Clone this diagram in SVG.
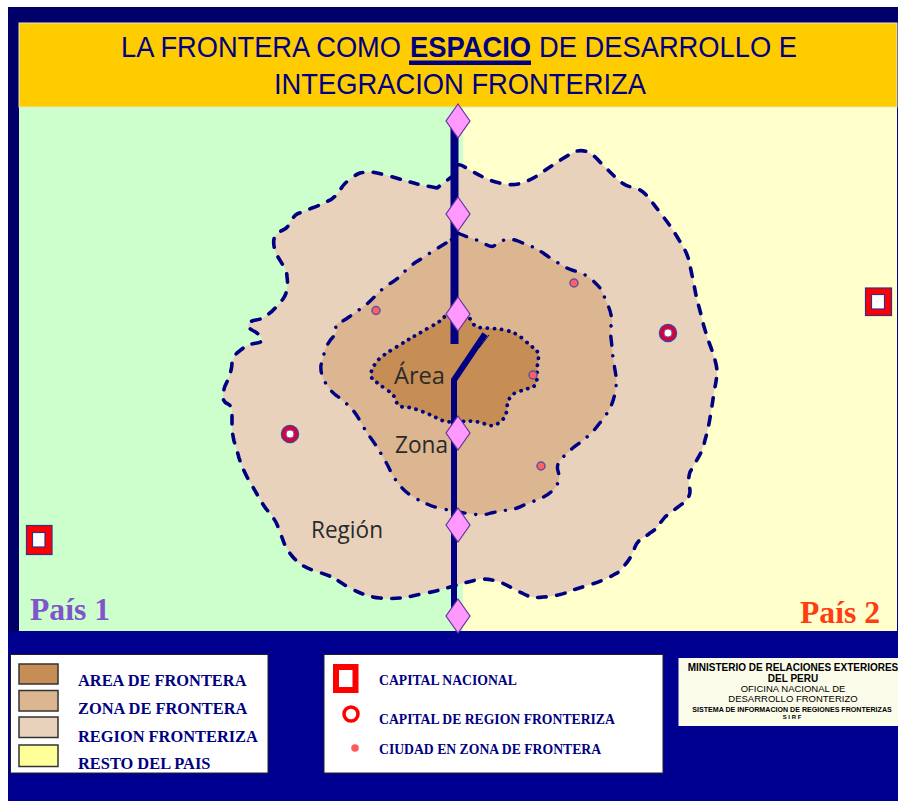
<svg xmlns="http://www.w3.org/2000/svg" width="898" height="801" viewBox="0 0 898 801">
<style>
.sans{font-family:"Liberation Sans",Arial,sans-serif}
.serif{font-family:"Liberation Serif","Times New Roman",serif;font-weight:bold}
.title{font-size:29px;fill:#000080}
.map{font-family:"Open Sans","Noto Sans",sans-serif;font-size:24px;fill:#2a2a2a}
.leg{font-size:16.400px;fill:#000080}
.leg2{font-size:13.700px;fill:#000080}
.sw{stroke:#333333;stroke-width:1.5}
.box{fill:#ffffff;stroke:#222222;stroke-width:1}
.dia{fill:#ff99ff;stroke:#663399;stroke-width:1.2}
.city{fill:#ff6060;stroke:#6050a0;stroke-width:1.5}
.b{fill:none;stroke:#000080}
.min{fill:#000000;text-anchor:middle}
</style>
<rect width="898" height="801" fill="#ffffff"/>
<rect x="8" y="7" width="890" height="794" fill="#000090"/>
<rect x="8" y="7" width="890" height="15" fill="#00006a"/>
<rect x="8" y="7" width="11" height="625" fill="#000068"/>
<g id="background">
<rect x="19" y="107" width="444" height="524" fill="#ccffcc"/>
<rect x="463" y="107" width="434" height="524" fill="#ffffcc"/>
</g>
<g id="title">
<rect x="19" y="23" width="878" height="84" fill="#ffcc00" stroke="#e8e8c0" stroke-width="1"/>
<text class="sans title" x="121" y="57" textLength="280" lengthAdjust="spacingAndGlyphs">LA FRONTERA COMO</text>
<text class="sans title" x="410" y="57" font-weight="bold" textLength="121" lengthAdjust="spacingAndGlyphs">ESPACIO</text>
<text class="sans title" x="539" y="57" textLength="258" lengthAdjust="spacingAndGlyphs">DE DESARROLLO E</text>
<rect x="409" y="60.500" width="122" height="4.500" fill="#000080"/>
<text class="sans title" x="274" y="94" textLength="372" lengthAdjust="spacingAndGlyphs">INTEGRACION FRONTERIZA</text>
</g>
<g id="region">
<path fill="#e8d2bc" stroke="#000080" stroke-width="3.6" stroke-dasharray="8.500 10.500" stroke-linecap="round" stroke-linejoin="round" d="M437 188 Q420 185 410 182 Q400 179 389 176 Q378 173 371 172 Q365 172 360 173 Q355 175 350 179 Q345 183 342 187 Q339 192 336 195 Q333 199 328 201 Q323 204 312 208 Q302 212 297 214 Q293 217 290 222 Q288 228 283 230 Q278 232 275 236 Q273 240 274 246 Q275 253 278 257 Q281 262 284 267 Q287 272 287 277 Q288 283 287 289 Q286 295 283 299 Q280 303 276 307 Q272 312 267 315 Q263 319 256 320 Q250 321 248 324 Q247 327 252 330 Q258 333 261 337 Q264 342 257 343 Q250 344 246 346 Q242 349 237 353 Q233 357 232 362 Q232 368 230 374 Q228 380 225 386 Q223 392 223 397 Q223 402 228 404 Q233 407 232 413 Q232 420 232 426 Q232 432 234 441 Q237 450 239 458 Q242 467 247 477 Q253 487 258 496 Q263 505 267 510 Q272 515 274 519 Q277 523 279 530 Q282 537 284 543 Q287 550 292 556 Q297 562 302 565 Q308 569 318 572 Q328 575 334 578 Q340 582 348 587 Q357 592 363 594 Q370 597 380 598 Q390 599 400 598 Q410 597 421 594 Q433 592 443 589 Q454 586 464 583 Q475 580 481 579 Q487 579 492 580 Q497 581 502 583 Q507 585 512 588 Q517 591 522 593 Q527 596 532 597 Q537 598 543 597 Q550 597 558 595 Q567 593 573 590 Q580 588 588 585 Q597 583 603 580 Q610 577 615 574 Q620 572 623 567 Q627 563 630 558 Q633 553 635 547 Q637 542 641 539 Q645 537 650 533 Q655 530 658 526 Q661 522 665 517 Q670 513 678 507 Q687 501 689 496 Q691 492 689 485 Q688 478 690 472 Q693 467 698 458 Q703 450 705 440 Q708 430 710 418 Q712 407 714 392 Q717 378 717 372 Q717 367 715 360 Q713 353 710 345 Q707 337 703 323 Q700 310 697 300 Q695 290 693 280 Q691 270 689 261 Q687 252 679 240 Q672 228 665 219 Q658 210 652 202 Q647 195 643 192 Q640 189 631 187 Q623 185 615 177 Q608 170 600 162 Q593 154 588 152 Q583 150 577 151 Q572 153 562 159 Q553 165 544 171 Q535 178 525 182 Q515 186 504 184 Q493 182 483 177 Q473 172 463 166 Q454 161 454 175 Z"/>
<text class="map" x="311" y="538" textLength="72" lengthAdjust="spacingAndGlyphs">Región</text>
</g>
<g id="zona">
<path fill="#dbb691" stroke="#000080" stroke-width="3.4" stroke-dasharray="9 10.500 0.100 10.500" stroke-linecap="round" stroke-linejoin="round" d="M446 243 Q438 248 430 253 Q423 258 416 262 Q409 267 403 273 Q397 280 389 284 Q382 289 376 295 Q370 302 363 307 Q356 312 349 317 Q342 322 338 323 Q335 325 336 328 Q338 332 333 337 Q328 342 325 350 Q323 358 321 365 Q320 373 325 382 Q330 391 337 396 Q345 402 350 407 Q356 413 360 421 Q365 430 370 437 Q376 445 380 452 Q385 460 389 468 Q393 477 398 483 Q403 490 410 495 Q418 500 425 503 Q433 507 443 509 Q454 511 458 512 Q463 513 473 514 Q483 516 491 513 Q500 511 508 510 Q517 509 524 505 Q532 502 539 499 Q547 496 552 491 Q557 487 558 482 Q560 477 558 471 Q556 465 561 459 Q567 453 574 447 Q581 442 587 437 Q593 432 599 424 Q605 417 609 410 Q613 403 615 393 Q617 383 616 376 Q615 370 613 358 Q612 346 611 338 Q610 330 611 326 Q613 322 611 315 Q610 309 606 301 Q603 293 600 288 Q597 284 590 278 Q583 273 575 271 Q567 269 560 264 Q553 260 546 255 Q539 250 533 247 Q527 245 518 241 Q510 238 504 240 Q498 243 495 245 Q493 248 487 245 Q482 242 474 239 Q467 237 460 234 Q454 231 454 238 Z"/>
<text class="map" x="395" y="453" textLength="53" lengthAdjust="spacingAndGlyphs">Zona</text>
</g>
<g id="area">
<path fill="#c68e54" stroke="#000080" stroke-width="3.800" stroke-dasharray="0.100 7" stroke-linecap="round" stroke-linejoin="round" d="M464 315 Q470 317 472 322 Q475 328 484 328 Q493 328 505 330 Q517 333 523 339 Q530 345 535 349 Q540 353 538 360 Q537 367 537 377 Q537 387 530 388 Q523 390 515 393 Q508 397 507 407 Q507 417 500 422 Q493 428 485 424 Q477 421 468 421 Q460 422 451 422 Q443 422 435 417 Q427 413 418 410 Q410 407 404 407 Q398 407 396 401 Q395 395 387 390 Q380 385 375 381 Q370 378 371 373 Q372 368 377 361 Q383 355 393 349 Q403 343 411 338 Q420 333 430 327 Q440 322 443 318 Q446 315 452 314 Q458 313 464 315 Z"/>
<text class="map" x="394" y="384" textLength="51" lengthAdjust="spacingAndGlyphs">Área</text>
</g>
<g id="connectors">
<path class="b" stroke-width="8" d="M454.500 120 V344"/>
<path class="b" stroke-width="6" d="M454 620 V380 L485 334"/>
<path class="b" stroke-width="1" d="M489 335 L479 348"/>
</g>
<g id="hitos">
<polygon id="hito1" class="dia" points="458,104 470,121 458,138 446,121"/>
<polygon id="hito2" class="dia" points="458,197 470,214 458,231 446,214"/>
<polygon id="hito3" class="dia" points="458,297 470,314 458,331 446,314"/>
<polygon id="hito4" class="dia" points="458,416 470,433 458,450 446,433"/>
<polygon id="hito5" class="dia" points="458,508 470,525 458,542 446,525"/>
<polygon id="hito6" class="dia" points="458,599 470,616 458,633 446,616"/>
</g>
<g id="ciudades">
<circle class="city" cx="376" cy="310.500" r="4"/>
<circle class="city" cx="574" cy="283" r="4"/>
<circle class="city" cx="533" cy="375" r="4"/>
<circle class="city" cx="541" cy="466" r="4"/>
</g>
<g id="capital-region-1">
<circle cx="290" cy="434" r="8.500" fill="#e00030" stroke="#4040a0" stroke-width="1.500"/>
<circle cx="290" cy="434" r="4" fill="#ffffff" stroke="#6a60c0" stroke-width="1"/>
</g>
<g id="capital-region-2">
<circle cx="668" cy="333" r="8.500" fill="#e00030" stroke="#4040a0" stroke-width="1.500"/>
<circle cx="668" cy="333" r="4" fill="#ffffff" stroke="#6a60c0" stroke-width="1"/>
</g>
<g id="capital-1">
<rect x="26.500" y="525.500" width="25.500" height="29" fill="#ff0000" stroke="#303090" stroke-width="1.200"/>
<rect x="32.500" y="532.500" width="12.500" height="14.500" fill="#ffffff" stroke="#303090" stroke-width="1.200"/>
</g>
<g id="capital-2">
<rect x="865.500" y="288" width="26" height="27.500" fill="#ff0000" stroke="#303090" stroke-width="1.200"/>
<rect x="871.500" y="294.500" width="13" height="14.500" fill="#ffffff" stroke="#303090" stroke-width="1.200"/>
</g>
<g id="paises">
<text class="serif" x="30" y="620" font-size="31.700" fill="#8055cc">País 1</text>
<text class="serif" x="800" y="623" font-size="31.700" fill="#ff3d11">País 2</text>
</g>
<g id="leyenda-zonas">
<rect class="box" x="10.500" y="654.500" width="257.500" height="118.500"/>
<rect class="sw" x="19" y="664" width="39" height="20" fill="#c68e54"/>
<rect class="sw" x="19" y="690.500" width="39" height="20.500" fill="#dbb691"/>
<rect class="sw" x="19" y="717" width="39" height="20.500" fill="#e8d2bc"/>
<rect class="sw" x="19" y="745" width="39" height="21.500" fill="#ffff99"/>
<text class="serif leg" x="78" y="686">AREA DE FRONTERA</text>
<text class="serif leg" x="78" y="714">ZONA DE FRONTERA</text>
<text class="serif leg" x="78" y="742">REGION FRONTERIZA</text>
<text class="serif leg" x="78" y="769">RESTO DEL PAIS</text>
</g>
<g id="leyenda-simbolos">
<rect class="box" x="324" y="654.500" width="339" height="118.500"/>
<rect x="336" y="667" width="19.500" height="23" fill="#ffffff" stroke="#ff0000" stroke-width="6"/>
<circle cx="351" cy="714" r="7" fill="#ffffff" stroke="#ff0000" stroke-width="3.500"/>
<circle cx="355" cy="748" r="3.800" fill="#ff5a5a"/>
<text class="serif leg2" x="379" y="685">CAPITAL NACIONAL</text>
<text class="serif leg2" x="379" y="724">CAPITAL DE REGION FRONTERIZA</text>
<text class="serif leg2" x="379" y="754">CIUDAD EN ZONA DE FRONTERA</text>
</g>
<g id="ministerio">
<rect x="678.500" y="658" width="219.500" height="68" fill="#fbfbea"/>
<text class="sans min" x="793" y="671" font-size="10" font-weight="bold">MINISTERIO DE RELACIONES EXTERIORES</text>
<text class="sans min" x="793" y="682" font-size="10" font-weight="bold">DEL PERU</text>
<text class="sans min" x="793" y="692" font-size="9.500">OFICINA NACIONAL DE</text>
<text class="sans min" x="793" y="702" font-size="9.500">DESARROLLO FRONTERIZO</text>
<text class="sans min" x="792" y="712" font-size="7.100" font-weight="bold">SISTEMA DE INFORMACION DE REGIONES FRONTERIZAS</text>
<text class="sans min" x="792" y="719" font-size="6" font-weight="bold">S I R F</text>
</g>
</svg>
